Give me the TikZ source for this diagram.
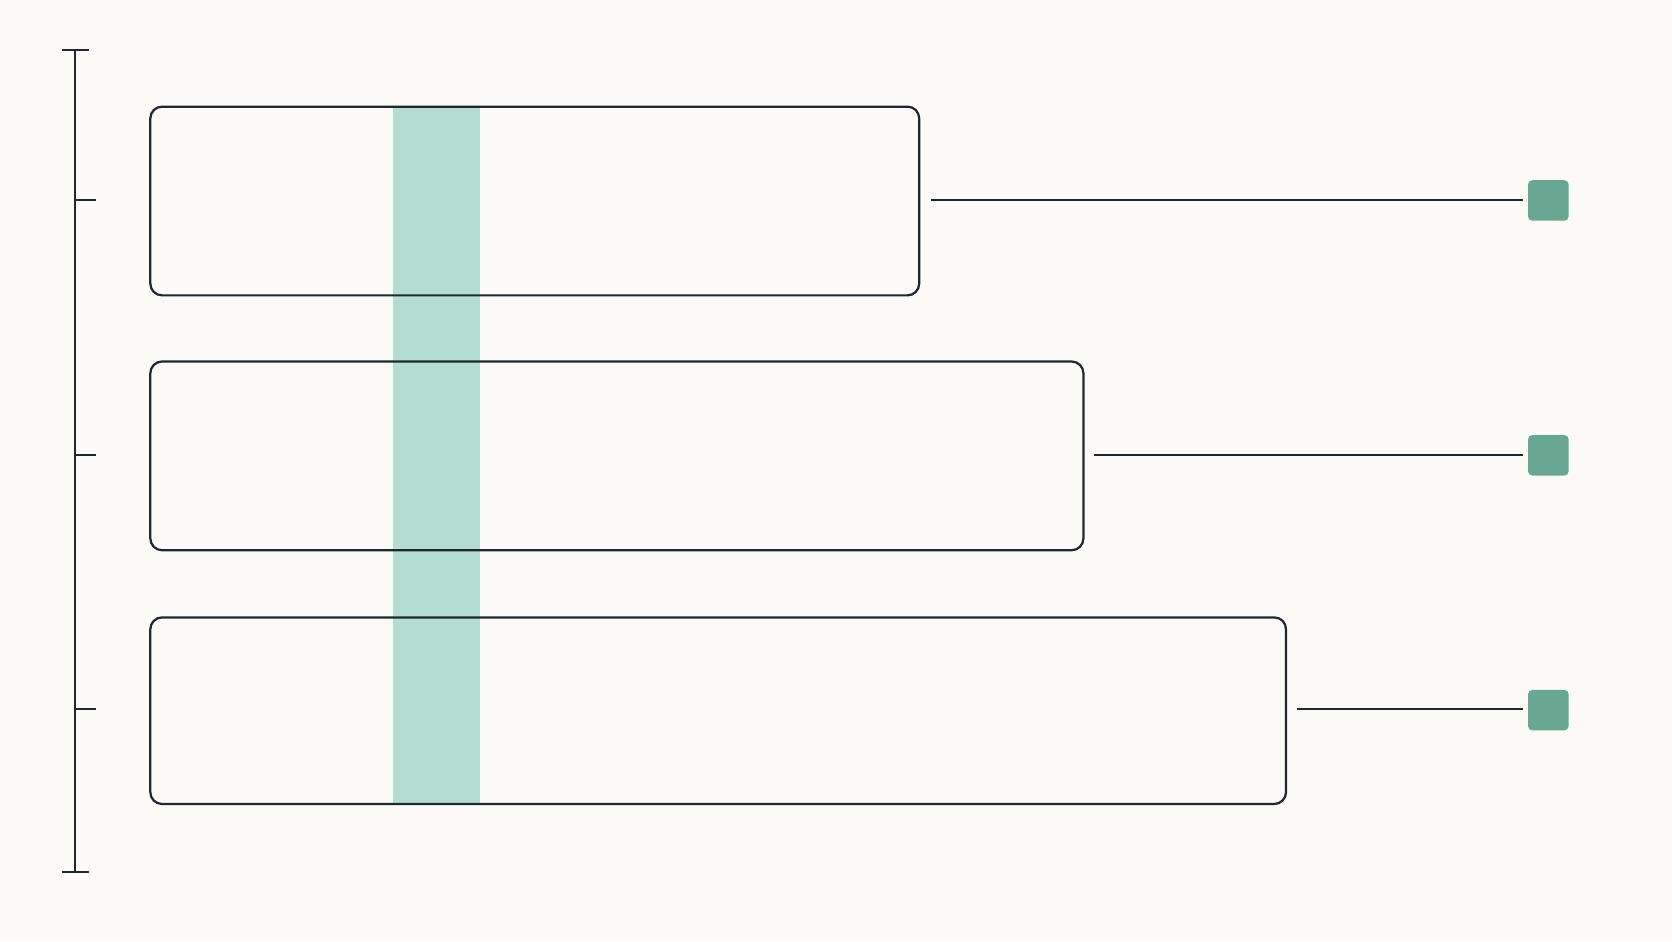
\documentclass[tikz,border=0pt]{standalone}
\definecolor{bg}{HTML}{FBFAF6}
\definecolor{ink}{HTML}{1E282E}
\definecolor{band}{HTML}{B4DDD2}
\definecolor{sq}{HTML}{68A893}
\begin{document}
\begin{tikzpicture}[x=0.5pt,y=-0.5pt,
  lane/.style={draw=ink,line width=1.05pt,rounded corners=5.5pt},
  conn/.style={draw=ink,line width=0.95pt},
  marker/.style={fill=sq,rounded corners=2pt},
  axis/.style={draw=ink,line width=0.95pt}]
\fill[bg] (0,0) rectangle (1568,882.5);
\useasboundingbox (0,0) rectangle (1568,882.5);
% band
\fill[band] (369,100) rectangle (450,754);
% axis
\draw[axis] (70,47) -- (70,818);
\draw[axis] (58,47) -- (83,47);
\draw[axis] (58,818) -- (83,818);
\draw[axis] (70,188) -- (90,188);
\draw[axis] (70,427) -- (90,427);
\draw[axis] (70,665) -- (90,665);
% lanes
\draw[lane] (141,100) rectangle (862,277);
\draw[lane] (141,339) rectangle (1016,516);
\draw[lane] (141,579) rectangle (1206,754);
\coordinate (e1) at (873,188);
\coordinate (e2) at (1026,427);
\coordinate (e3) at (1216,665);
% markers
\path[marker] (1433,169) rectangle (1471,207);
\path[marker] (1433,408) rectangle (1471,446);
\path[marker] (1433,647) rectangle (1471,685);
\coordinate (m1) at (1428,188);
\coordinate (m2) at (1428,427);
\coordinate (m3) at (1428,665);
\draw[conn] (e1) -- (m1);
\draw[conn] (e2) -- (m2);
\draw[conn] (e3) -- (m3);
\end{tikzpicture}
\end{document}
